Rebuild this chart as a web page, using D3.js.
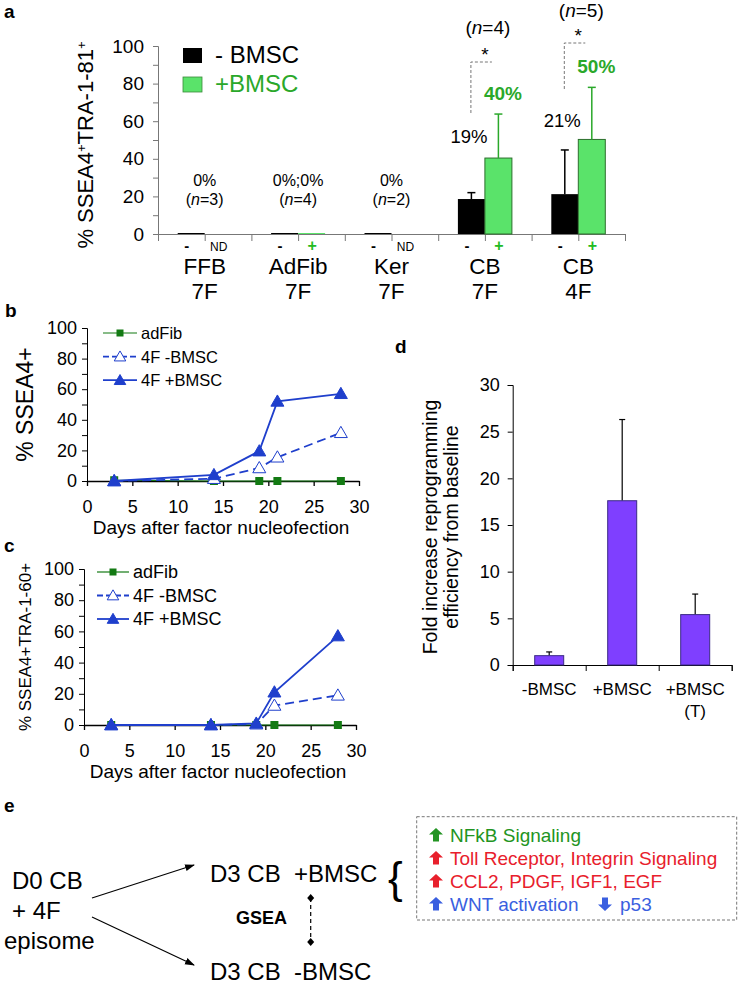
<!DOCTYPE html>
<html><head><meta charset="utf-8">
<script src="https://cdn.jsdelivr.net/npm/d3@7"></script>
<style>body{margin:0;background:#fff} text{font-family:"Liberation Sans",Arial,sans-serif}</style>
</head><body><svg id="c" width="741" height="985"></svg>
<script>
// ---------- DATA ----------
// panel a
const aGroups = ["FFB","AdFib","Ker","CB","CB"];
const aGroups2 = ["7F","7F","7F","7F","4F"];
const aMinus = [0,0,0,18.6,21.2];
const aMinusErr = [0,0,0,3.4,23.5];
const aPlus = [null,0,null,40.4,50.3];      // null = not determined (ND)
const aPlusErr = [0,0,0,23.4,27.7];
const aPctMinus = [null,null,null,"19%","21%"];
const aPctPlus = [null,null,null,"40%","50%"];
const aZeroText = ["0%","0%;0%","0%",null,null];
const aN = ["3","4","2","4","5"];
const aTicks = [0,10,20,30,40,50,60,70,80,90,100];
// panel b / c
const days = [3,14,19,21,28];
const bAdFib = [0.5,0,0,0,0];
const bMinus = [0,1.5,8.5,15.5,31.5];
const bPlus  = [0,4,19.5,52,57];
const cAdFib = [0,0,0,0,0];
const cMinus = [0,0,0.5,12.5,19];
const cPlus  = [0,0,1,21,57];
const seriesNames = ["adFib","4F -BMSC","4F +BMSC"];
const dayTicks = [0,5,10,15,20,25,30];
// panel d
const dCats = ["-BMSC","+BMSC","+BMSC"];
const dCats2 = ["","","(T)"];
const dVals = [1.0,17.6,5.4];
const dErr = [0.4,8.7,2.2];
const dTicks = [0,5,10,15,20,25,30];
// panel e
const eItems = [
  {dir:"up", text:"NFkB Signaling", color:"#229422"},
  {dir:"up", text:"Toll Receptor, Integrin Signaling", color:"#e8202c"},
  {dir:"up", text:"CCL2, PDGF, IGF1, EGF", color:"#e8202c"},
  {dir:"up", text:"WNT activation", color:"#3a5fe0"}
];

// ---------- DRAW ----------
const svg = d3.select("#c");
const BLUE = "#1f3fcc", DGREEN = "#137a13", LGREEN = "#5ae36a", TGREEN = "#2aa82a";

// panel letters
[["a",4,18],["b",5,317],["c",4,552],["d",395,353],["e",4,812]].forEach(([t,x,y])=>
  svg.append("text").attr("x",x).attr("y",y).attr("font-size",19).attr("font-weight","bold").text(t));

// ===== Panel a =====
{
  const g = svg.append("g");
  const y = d3.scaleLinear([0,100],[234,46]);
  const x = d3.scaleBand(d3.range(aGroups.length),[158,625]);
  const hw = x.bandwidth()/2, bw = 27;
  const xl = d3.scaleLinear([0,10],[158,625]);
  const ax = g.append("g").attr("transform","translate(158,0)")
    .call(d3.axisLeft(y).tickValues(aTicks).tickFormat(d=>d%20===0?d:"").tickSize(5).tickPadding(9));
  ax.selectAll("text").attr("font-size",19).attr("fill","#000").attr("font-family",'"Liberation Sans",Arial,sans-serif');
  ax.selectAll("line,path").attr("stroke","#777");
  const bx = g.append("g").attr("transform","translate(0,234)")
    .call(d3.axisBottom(xl).ticks(10).tickFormat("").tickSize(7).tickSizeOuter(7));
  bx.selectAll("line,path").attr("stroke","#777");

  // bars
  aMinus.forEach((v,i)=>{
    const cx = x(i)+hw;
    g.append("rect").attr("x",cx-bw).attr("width",bw).attr("y",y(v)-(v?0:1)).attr("height",Math.max(1,y(0)-y(v)))
      .attr("fill","#000");
    if(aMinusErr[i]){
      const xm = cx-bw/2;
      g.append("line").attr("x1",xm).attr("x2",xm).attr("y1",y(v)).attr("y2",y(v+aMinusErr[i])).attr("stroke","#000").attr("stroke-width",1.5);
      g.append("line").attr("x1",xm-4).attr("x2",xm+4).attr("y1",y(v+aMinusErr[i])).attr("y2",y(v+aMinusErr[i])).attr("stroke","#000").attr("stroke-width",1.5);
    }
  });
  aPlus.forEach((v,i)=>{
    if(v===null) return;
    const cx = x(i)+hw;
    g.append("rect").attr("x",cx).attr("width",bw).attr("y",y(v)-(v?0:1)).attr("height",Math.max(1,y(0)-y(v)))
      .attr("fill",LGREEN).attr("stroke",v?"#2c6e2c":"none").attr("stroke-width",1);
    if(aPlusErr[i]){
      const xm = cx+bw/2;
      g.append("line").attr("x1",xm).attr("x2",xm).attr("y1",y(v)).attr("y2",y(v+aPlusErr[i])).attr("stroke",TGREEN).attr("stroke-width",1.5);
      g.append("line").attr("x1",xm-4).attr("x2",xm+4).attr("y1",y(v+aPlusErr[i])).attr("y2",y(v+aPlusErr[i])).attr("stroke",TGREEN).attr("stroke-width",1.5);
    }
  });

  // x labels
  aGroups.forEach((t,i)=>{
    const cx = x(i)+hw;
    g.append("text").attr("x",cx-18).attr("y",251).attr("text-anchor","middle").attr("font-size",15).attr("font-weight","bold").text("-");
    if(aPlus[i]===null)
      g.append("text").attr("x",cx+14).attr("y",251).attr("text-anchor","middle").attr("font-size",12).text("ND");
    else
      g.append("text").attr("x",cx+14).attr("y",251).attr("text-anchor","middle").attr("font-size",16).attr("font-weight","bold").attr("fill","#22bb22").text("+");
    g.append("text").attr("x",cx).attr("y",274).attr("text-anchor","middle").attr("font-size",22.5).text(t);
    g.append("text").attr("x",cx).attr("y",299).attr("text-anchor","middle").attr("font-size",22.5).text(aGroups2[i]);
  });

  // zero annotations
  aZeroText.forEach((t,i)=>{
    if(!t) return;
    const cx = x(i)+hw;
    g.append("text").attr("x",cx).attr("y",186).attr("text-anchor","middle").attr("font-size",16).text(t);
    const n = g.append("text").attr("x",cx).attr("y",205).attr("text-anchor","middle").attr("font-size",16);
    n.append("tspan").text("(");
    n.append("tspan").attr("font-style","italic").text("n");
    n.append("tspan").text("="+aN[i]+")");
  });

  // percent labels & n for CB groups
  aPctMinus.forEach((t,i)=>{
    if(!t) return;
    const cx = x(i)+hw;
    g.append("text").attr("x",cx-16).attr("y",i===3?143:126.5).attr("text-anchor","middle").attr("font-size",18.5).text(t);
    g.append("text").attr("x",cx+18).attr("y",y(aPlus[i]+aPlusErr[i])-14).attr("text-anchor","middle")
      .attr("font-size",19).attr("font-weight","bold").attr("fill",TGREEN).text(aPctPlus[i]);
    // significance bracket
    const bxp = cx-14, topY = i===3?62:43, botY = i===3?113:89;
    g.append("path").attr("d",`M${bxp},${botY}V${topY}H${bxp+21}`).attr("fill","none")
      .attr("stroke","#777").attr("stroke-dasharray","3,2").attr("stroke-width",1);
    g.append("text").attr("x",bxp+14).attr("y",topY-1).attr("text-anchor","middle").attr("font-size",19).text("*");
    const n = g.append("text").attr("x",cx+3).attr("y",i===3?34:17).attr("text-anchor","middle").attr("font-size",19);
    n.append("tspan").text("(");
    n.append("tspan").attr("font-style","italic").text("n");
    n.append("tspan").text("="+aN[i]+")");
  });

  // legend
  const leg = [["#000","- BMSC","#000"],[LGREEN,"+BMSC",TGREEN]];
  leg.forEach((l,i)=>{
    g.append("rect").attr("x",183).attr("y",48+i*29).attr("width",19).attr("height",15).attr("fill",l[0])
      .attr("stroke",i?"#3a8a3a":"none").attr("stroke-width",0.8);
    g.append("text").attr("x",215).attr("y",63+i*29).attr("font-size",24).attr("fill",l[2]).text(l[1]);
  });

  // y label
  const yl = g.append("text").attr("transform","translate(93,145) rotate(-90)").attr("text-anchor","middle").attr("font-size",22);
  yl.append("tspan").text("% SSEA4");
  yl.append("tspan").attr("baseline-shift","super").attr("font-size",13).text("+");
  yl.append("tspan").text("TRA-1-81");
  yl.append("tspan").attr("baseline-shift","super").attr("font-size",13).text("+");
}

// ===== Panels b & c =====
function linePanel(opts){
  const g = svg.append("g");
  const x = d3.scaleLinear([0,30],[opts.x0,opts.x1]);
  const y = d3.scaleLinear([0,100],[opts.y0,opts.y1]);
  const ay = g.append("g").attr("transform",`translate(${opts.x0},0)`)
    .call(d3.axisLeft(y).tickValues(aTicks).tickFormat(d=>d%20===0?d:"").tickSize(5).tickPadding(5));
  ay.selectAll("text").attr("font-size",18).attr("fill","#000").attr("font-family",'"Liberation Sans",Arial,sans-serif');
  ay.selectAll("line,path").attr("stroke","#000");
  const axb = g.append("g").attr("transform",`translate(0,${opts.y0})`)
    .call(d3.axisBottom(x).tickValues(dayTicks).tickSize(5).tickPadding(14).tickSizeOuter(0));
  axb.selectAll("text").attr("font-size",18).attr("fill","#000").attr("font-family",'"Liberation Sans",Arial,sans-serif');
  axb.selectAll("line,path").attr("stroke","#000").attr("stroke-width",1.3);
  g.append("text").attr("x",(opts.x0+opts.x1)/2 - 2).attr("y",opts.y0+53).attr("text-anchor","middle").attr("font-size",19)
    .text("Days after factor nucleofection");
  g.append("text").attr("transform",`translate(${opts.ylx},${(opts.y0+opts.y1)/2}) rotate(-90)`).attr("text-anchor","middle")
    .attr("font-size",opts.ylSize).text(opts.ylabel);

  const line = d3.line().x((d,i)=>x(days[i])).y(d=>y(d));
  const styles = [
    {data:opts.adFib, color:DGREEN, dash:null, w:1.2, sym:"square"},
    {data:opts.minus, color:BLUE, dash:"9,5", w:1.8, sym:"triOpen"},
    {data:opts.plus, color:BLUE, dash:null, w:1.8, sym:"tri"}
  ];
  function marker(sel, s, cx, cy, sz){
    if(s.sym==="square")
      sel.append("rect").attr("x",cx-sz/2).attr("y",cy-sz/2).attr("width",sz).attr("height",sz).attr("fill",s.color);
    else
      sel.append("path").attr("transform",`translate(${cx},${cy+1})`)
        .attr("d",d3.symbol(d3.symbolTriangle).size(sz*sz*0.9)())
        .attr("fill",s.sym==="tri"?s.color:"#fff").attr("stroke",s.color).attr("stroke-width",1);
  }
  styles.forEach(s=>{
    g.append("path").datum(s.data).attr("d",line).attr("fill","none").attr("stroke",s.color)
      .attr("stroke-width",s.w).attr("stroke-dasharray",s.dash);
    s.data.forEach((v,i)=>marker(g,s,x(days[i]),y(v),s.sym==="square"?8:9));
  });
  // legend
  styles.forEach((s,i)=>{
    const ly = opts.legY + i*opts.legStep;
    g.append("line").attr("x1",opts.legX).attr("x2",opts.legX+opts.legW).attr("y1",ly).attr("y2",ly)
      .attr("stroke",s.color).attr("stroke-width",s.w).attr("stroke-dasharray",s.dash?"6,3":null);
    marker(g,s,opts.legX+opts.legW/2,ly,s.sym==="square"?7:8);
    g.append("text").attr("x",opts.legX+opts.legW+4).attr("y",ly+6).attr("font-size",opts.legSize).text(seriesNames[i]);
  });
}
linePanel({x0:87,x1:359,y0:481,y1:328,adFib:bAdFib,minus:bMinus,plus:bPlus,ylabel:"% SSEA4+",ylx:33,ylSize:23,
  legX:103,legW:34,legY:333,legStep:23.6,legSize:16.5});
linePanel({x0:84,x1:356,y0:725,y1:569,adFib:cAdFib,minus:cMinus,plus:cPlus,ylabel:"% SSEA4+TRA-1-60+",ylx:31,ylSize:17,
  legX:97,legW:32,legY:572,legStep:23.5,legSize:18});

// ===== Panel d =====
{
  const g = svg.append("g");
  const y = d3.scaleLinear([0,30],[665,385]);
  const x = d3.scaleBand(d3.range(dCats.length),[512.7,731.7]).paddingInner(0).paddingOuter(0);
  const bw = 29;
  const ay = g.append("g").attr("transform","translate(512.7,0)")
    .call(d3.axisLeft(y).tickValues(dTicks).tickSize(5).tickPadding(8));
  ay.selectAll("text").attr("font-size",18).attr("fill","#000").attr("font-family",'"Liberation Sans",Arial,sans-serif');
  ay.selectAll("line,path").attr("stroke","#000");
  const xl = d3.scaleLinear([0,3],[512.7,731.7]);
  const axb = g.append("g").attr("transform","translate(0,665)")
    .call(d3.axisBottom(xl).ticks(3).tickFormat("").tickSize(6).tickSizeOuter(6));
  axb.selectAll("line,path").attr("stroke","#000");
  dVals.forEach((v,i)=>{
    const cx = x(i)+x.bandwidth()/2;
    g.append("line").attr("x1",cx).attr("x2",cx).attr("y1",y(v)).attr("y2",y(v+dErr[i])).attr("stroke","#000").attr("stroke-width",1.2);
    g.append("line").attr("x1",cx-3).attr("x2",cx+3).attr("y1",y(v+dErr[i])).attr("y2",y(v+dErr[i])).attr("stroke","#000").attr("stroke-width",1.2);
    g.append("rect").attr("x",cx-bw/2).attr("width",bw).attr("y",y(v)).attr("height",y(0)-y(v))
      .attr("fill","#7f3fff").attr("stroke","#3b2a85").attr("stroke-width",1);
    g.append("text").attr("x",cx).attr("y",695).attr("text-anchor","middle").attr("font-size",17).text(dCats[i]);
    if(dCats2[i]) g.append("text").attr("x",cx).attr("y",717).attr("text-anchor","middle").attr("font-size",17).text(dCats2[i]);
  });
  const yl = g.append("text").attr("transform","translate(437,527) rotate(-90)").attr("text-anchor","middle").attr("font-size",19.5);
  yl.append("tspan").attr("x",0).attr("dy",0).text("Fold increase reprogramming");
  yl.append("tspan").attr("x",0).attr("dy",21).text("efficiency from baseline");
}

// ===== Panel e =====
{
  const g = svg.append("g");
  const defs = svg.append("defs");
  defs.append("marker").attr("id","ah").attr("viewBox","0 0 10 10").attr("refX",9).attr("refY",5)
    .attr("markerWidth",9).attr("markerHeight",9).attr("orient","auto-start-reverse")
    .append("path").attr("d","M0,1.5L10,5L0,8.5z").attr("fill","#000");
  const txt = (x,y,t,s,extra)=>{ const e=g.append("text").attr("x",x).attr("y",y).attr("font-size",s).style("white-space","pre").text(t); if(extra) extra(e); return e; };
  txt(12,889,"D0 CB",24);
  txt(12,919,"+ 4F",24);
  txt(4,949,"episome",24);
  txt(210,882,"D3 CB  +BMSC",24);
  txt(210,980,"D3 CB  -BMSC",24);
  txt(236,924,"GSEA",18,e=>e.attr("font-weight","bold"));
  g.append("line").attr("x1",92).attr("y1",898).attr("x2",194).attr("y2",865).attr("stroke","#000").attr("stroke-width",1.1).attr("marker-end","url(#ah)");
  g.append("line").attr("x1",92).attr("y1",917).attr("x2",194).attr("y2",965).attr("stroke","#000").attr("stroke-width",1.1).attr("marker-end","url(#ah)");
  g.append("line").attr("x1",310.7).attr("y1",898).attr("x2",310.7).attr("y2",942).attr("stroke","#000").attr("stroke-width",1.2).attr("stroke-dasharray","4,3");
  [898,942].forEach(yy=>g.append("path").attr("d",`M310.7,${yy-4}L314.2,${yy}L310.7,${yy+4}L307.2,${yy}z`).attr("fill","#000"));
  txt(388,893,"{",44);
  // box
  g.append("rect").attr("x",416.7).attr("y",816.7).attr("width",320).attr("height",103.3).attr("fill","none")
    .attr("stroke","#777").attr("stroke-dasharray","3,2").attr("stroke-width",1);
  const arrow = (cx,cy,dir,color)=>{
    const s = dir==="up"?1:-1;
    g.append("path").attr("transform",`translate(${cx},${cy}) scale(1,${-s})`)
      .attr("d","M-3,-6.5L3,-6.5L3,0.5L7,0.5L0,7L-7,0.5L-3,0.5z").attr("fill",color);
  };
  eItems.forEach((it,i)=>{
    const cy = 835 + i*23;
    arrow(436,cy,it.dir,it.color);
    g.append("text").attr("x",450).attr("y",cy+7).attr("font-size",19).attr("fill",it.color).text(it.text);
  });
  arrow(605,904,"down","#3a5fe0");
  g.append("text").attr("x",620).attr("y",911).attr("font-size",19).attr("fill","#3a5fe0").text("p53");
}
</script></body></html>
